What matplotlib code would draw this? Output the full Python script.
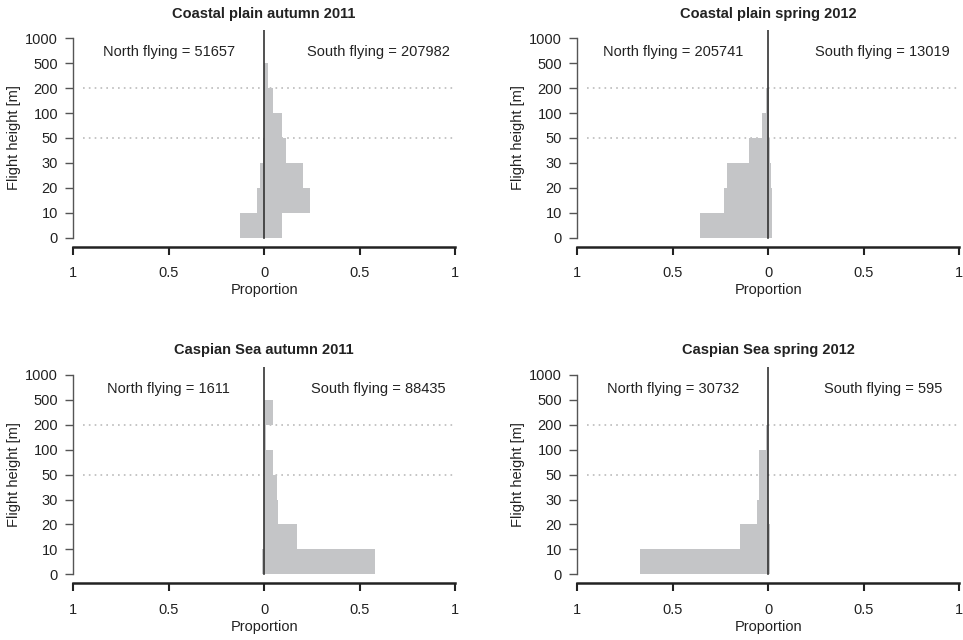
import matplotlib.pyplot as plt

plt.rcParams['font.family'] = ['Liberation Sans', 'DejaVu Sans']

HEIGHT_LABELS = ['0', '10', '20', '30', '50', '100', '200', '500', '1000']

TITLES = ['Coastal plain autumn 2011', 'Coastal plain spring 2012',
          'Caspian Sea autumn 2011', 'Caspian Sea spring 2012']
NORTH_COUNTS = [51657, 205741, 1611, 30732]
SOUTH_COUNTS = [207982, 13019, 88435, 595]

# proportions per height bin: 0-10, 10-20, 20-30, 30-50, 50-100, 100-200, 200-500, 500-1000
NORTH_PROP = [
    [0.128, 0.038, 0.021, 0.005, 0.003, 0.001, 0.0, 0.0],
    [0.356, 0.229, 0.214, 0.098, 0.035, 0.009, 0.001, 0.0],
    [0.012, 0.002, 0.001, 0.001, 0.001, 0.0, 0.0, 0.0],
    [0.671, 0.149, 0.061, 0.046, 0.046, 0.009, 0.003, 0.0],
]
SOUTH_PROP = [
    [0.096, 0.239, 0.201, 0.112, 0.096, 0.044, 0.019, 0.0],
    [0.021, 0.021, 0.015, 0.008, 0.004, 0.002, 0.0, 0.0],
    [0.580, 0.170, 0.075, 0.065, 0.044, 0.012, 0.044, 0.0],
    [0.010, 0.009, 0.002, 0.001, 0.001, 0.001, 0.0, 0.0],
]

BAR_COLOR = '#c4c5c7'
FS = 10.5

fig = plt.figure(figsize=(9.63, 6.40), dpi=100)

# axes boxes in figure fraction (left, bottom, width, height)
positions = [
    (0.0761, 0.6146, 0.3964, 0.3381),
    (0.5995, 0.6146, 0.3964, 0.3381),
    (0.0761, 0.0886, 0.3964, 0.3381),
    (0.5995, 0.0886, 0.3964, 0.3381),
]

ybot, ytop = -0.36, 8.32

for k in range(4):
    ax = fig.add_axes(positions[k])
    n_bins = len(NORTH_PROP[k])
    bottoms = list(range(n_bins))
    ax.barh(bottoms, [-v for v in NORTH_PROP[k]], height=1.0, align='edge',
            color=BAR_COLOR, linewidth=0)
    ax.barh(bottoms, SOUTH_PROP[k], height=1.0, align='edge',
            color=BAR_COLOR, linewidth=0)

    # dotted reference lines at 50 m and 200 m
    for lvl in ['50', '200']:
        yi = HEIGHT_LABELS.index(lvl)
        ax.plot([-0.95, 1.0], [yi, yi], color='#bbbbbb', linestyle=(0, (1, 2.5)),
                linewidth=1.2, zorder=0, clip_on=False)

    ax.plot([0, 0], [0, ytop], color='#333333', linewidth=1.2, zorder=3)

    ax.set_xlim(-1, 1)
    ax.set_ylim(ybot, ytop)

    for s in ['top', 'right']:
        ax.spines[s].set_visible(False)
    ax.spines['left'].set_bounds(0, 8)
    ax.spines['left'].set_color('#555555')
    ax.spines['left'].set_linewidth(1.0)
    ax.spines['bottom'].set_color('#222222')
    ax.spines['bottom'].set_linewidth(1.8)

    ax.set_yticks(range(len(HEIGHT_LABELS)))
    ax.set_yticklabels(HEIGHT_LABELS)
    ax.set_xticks([-1, -0.5, 0, 0.5, 1])
    ax.set_xticklabels(['1', '0.5', '0', '0.5', '1'])
    ax.tick_params(axis='y', length=6, width=1.0, color='#555555', pad=5,
                   labelsize=FS, labelcolor='#222222')
    ax.tick_params(axis='x', length=5.5, width=1.5, color='#222222', pad=8.5,
                   labelsize=FS, labelcolor='#222222')

    ax.set_xlabel('Proportion', fontsize=FS, color='#222222', labelpad=2)
    ax.set_ylabel('Flight height [m]', fontsize=FS, color='#222222')
    ax.yaxis.set_label_coords(-0.137, (4 - ybot) / (ytop - ybot))

    ax.set_title(TITLES[k], fontsize=FS, fontweight='bold', color='#222222', pad=9)

    ax.text(-0.5, 7.45, f'North flying = {NORTH_COUNTS[k]}', ha='center', va='center',
            fontsize=FS, color='#222222')
    ax.text(0.6, 7.45, f'South flying = {SOUTH_COUNTS[k]}', ha='center', va='center',
            fontsize=FS, color='#222222')

fig.savefig('out.png', dpi=100)
